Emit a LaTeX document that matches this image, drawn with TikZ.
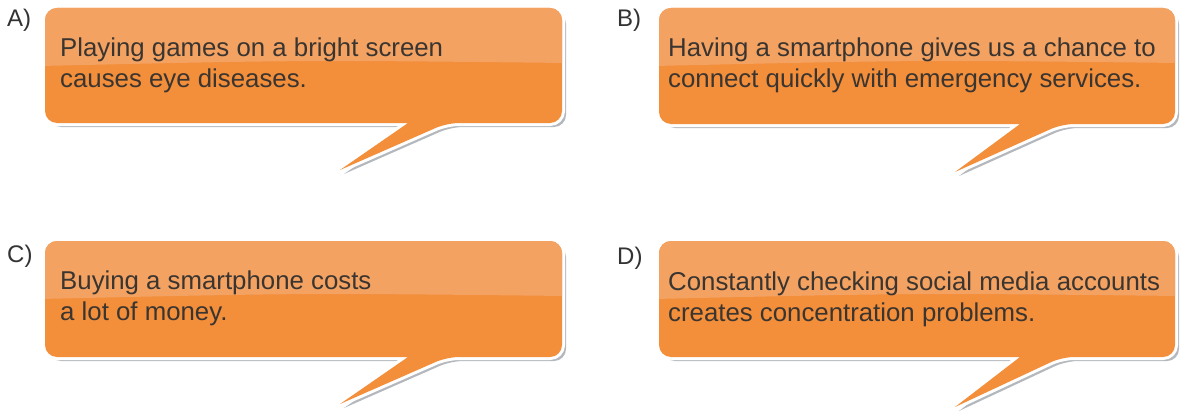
\documentclass[tikz,border=0pt]{standalone}
\usepackage{fontspec}
\setmainfont{Liberation Sans}
\definecolor{bubtop}{HTML}{F3A262}
\definecolor{bubbot}{HTML}{F38E3A}
\definecolor{txt}{HTML}{3A3530}
\definecolor{shad}{HTML}{B4B8BC}
\tikzset{
  bubtext/.style={anchor=base west, inner sep=0pt, text=txt, font=\fontsize{25.8}{31}\selectfont, align=left},
  lbl/.style={anchor=base west, inner sep=0pt, text=black!80, font=\fontsize{24}{26}\selectfont},
}
% #1 L, #2 T, #3 R, #4 B, #5 base left, #6 base right, #7 tip x, #8 tip y
\newcommand{\bubblepath}[8]{(#5,#4) [rounded corners=12pt] -- (#1,#4) -- (#1,#2) -- (#3,#2) -- (#3,#4) -- (#6,#4) [sharp corners] -- (#7,#8) -- cycle}
\newcommand{\mybubble}[8]{%
  \fill[shad] [xshift=4pt, yshift=-4pt] \bubblepath{#1}{#2}{#3}{#4}{#5}{#6}{#7}{#8};
  \draw[white, line width=6pt, line join=round] \bubblepath{#1}{#2}{#3}{#4}{#5}{#6}{#7}{#8};
  \fill[bubbot] \bubblepath{#1}{#2}{#3}{#4}{#5}{#6}{#7}{#8};
  \begin{scope}
    \clip \bubblepath{#1}{#2}{#3}{#4}{#5}{#6}{#7}{#8};
    \fill[bubtop] (#1-5,#2-5) -- (#3+5,#2-5) -- (#3+5,#2+55) .. controls ({(#1+#3)/2},#2+52) .. (#1-5,#2+58) -- cycle;
  \end{scope}
}
\begin{document}
\begin{tikzpicture}[x=1pt, y=-1pt]
\useasboundingbox[fill=white] (0,0) rectangle (1182,412);
% A
\mybubble{45}{8}{562}{123}{408}{447}{340}{170}
\node[lbl] (la) at (7,27) {A)};
\node[bubtext] (ta) at (60,87) {Playing games on a bright screen\\causes eye diseases.};
% B
\mybubble{659}{8}{1175}{124}{1020}{1062}{955}{172}
\node[lbl] (lb) at (617,27) {B)};
\node[bubtext] (tb) at (668,87) {Having a smartphone gives us a chance to\\connect quickly with emergency services.};
% C
\mybubble{45}{241}{562}{357}{408}{447}{340}{404}
\node[lbl] (lc) at (7,262) {C)};
\node[bubtext] (tc) at (60,320) {Buying a smartphone costs\\a lot of money.};
% D
\mybubble{659}{241}{1175}{357}{1020}{1062}{955}{407}
\node[lbl] (ld) at (617,264) {D)};
\node[bubtext] (td) at (668,321) {Constantly checking social media accounts\\creates concentration problems.};
\end{tikzpicture}
\end{document}
